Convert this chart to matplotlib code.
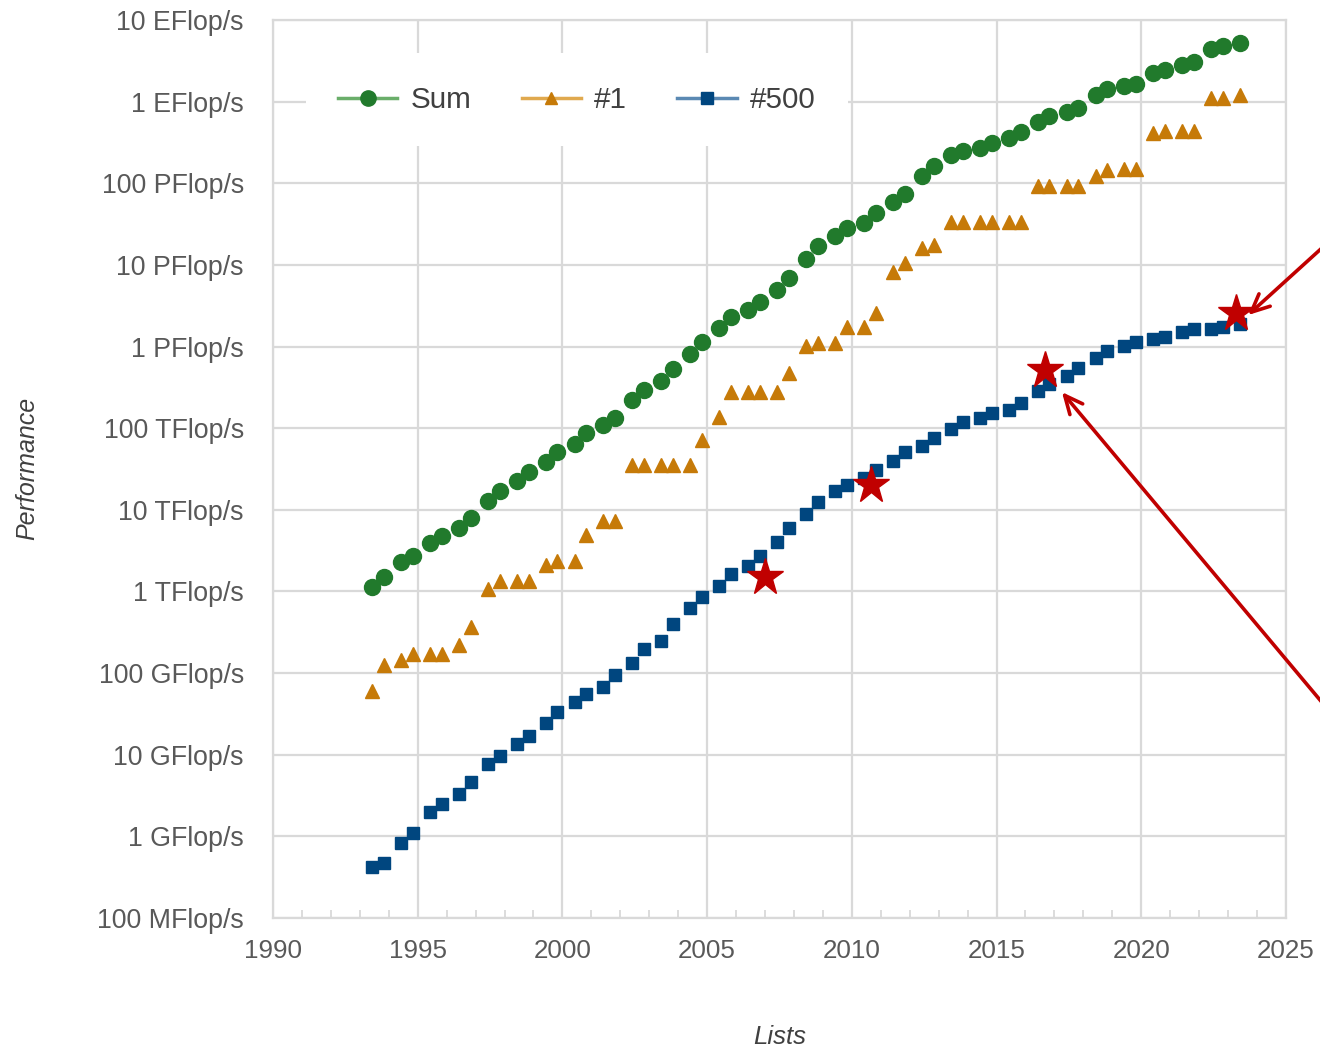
import matplotlib
matplotlib.use("Agg")
import matplotlib.pyplot as plt
import numpy as np
from matplotlib.lines import Line2D
from matplotlib.ticker import FixedLocator, MultipleLocator

# list dates (June = .42, November = .83)
lists = [
    1993.42, 1993.83, 1994.42, 1994.83, 1995.42, 1995.83, 1996.42, 1996.83,
    1997.42, 1997.83, 1998.42, 1998.83, 1999.42, 1999.83, 2000.42, 2000.83,
    2001.42, 2001.83, 2002.42, 2002.83, 2003.42, 2003.83, 2004.42, 2004.83,
    2005.42, 2005.83, 2006.42, 2006.83, 2007.42, 2007.83, 2008.42, 2008.83,
    2009.42, 2009.83, 2010.42, 2010.83, 2011.42, 2011.83, 2012.42, 2012.83,
    2013.42, 2013.83, 2014.42, 2014.83, 2015.42, 2015.83, 2016.42, 2016.83,
    2017.42, 2017.83, 2018.42, 2018.83, 2019.42, 2019.83, 2020.42, 2020.83,
    2021.42, 2021.83, 2022.42, 2022.83, 2023.42,
]

# performance in GFlop/s
perf_sum = [
    1128, 1493, 2317, 2730, 3947, 4783, 5966, 7985,
    12900, 17210, 22600, 29350, 39000, 50500, 64400, 88100,
    108500, 134400, 222100, 293000, 375000, 528000, 813000, 1127000,
    1690000, 2300000, 2790000, 3540000, 4920000, 6970000, 11700000, 16950000,
    22600000, 27950000, 32400000, 43660000, 58880000, 74200000, 123000000, 162000000,
    223000000, 250000000, 274000000, 309000000, 363000000, 420000000, 566000000, 672000000,
    749000000, 845000000, 1220000000, 1417000000, 1559000000, 1650000000, 2220000000, 2430000000,
    2790000000, 3040000000, 4400000000, 4860000000, 5240000000,
]
perf_n1 = [
    59.7, 124.5, 143.4, 170.4, 170.4, 170.4, 220.4, 368.2,
    1068, 1338, 1338, 1338, 2121, 2379, 2379, 4938,
    7226, 7226, 35860, 35860, 35860, 35860, 35860, 70720,
    136800, 280600, 280600, 280600, 280600, 478200, 1026000, 1105000,
    1105000, 1759000, 1759000, 2566000, 8162000, 10510000, 16324000, 17590000,
    33860000, 33860000, 33860000, 33860000, 33860000, 33860000, 93010000, 93010000,
    93010000, 93010000, 122300000, 143500000, 148600000, 148600000, 415500000, 442000000,
    442000000, 442000000, 1102000000, 1102000000, 1194000000,
]
perf_n500 = [
    0.422, 0.472, 0.822, 1.114, 1.962, 2.489, 3.306, 4.620,
    7.680, 9.513, 13.39, 17.12, 24.73, 33.14, 43.82, 55.10,
    67.78, 94.30, 134.3, 195.8, 245.1, 403.4, 624.0, 850.6,
    1166, 1646, 2026, 2737, 4005, 5929, 9000, 12640,
    17090, 20050, 24670, 31120, 39090, 50940, 60820, 76500,
    96620, 117800, 133700, 153400, 164800, 206300, 286100, 349300,
    432200, 548700, 715600, 874800, 1021000, 1142000, 1228000, 1317000,
    1511000, 1646000, 1649000, 1730000, 1870000,
]

# highlighted systems (red stars)
star_x = [2007.0, 2010.66, 2016.68, 2023.28]
star_y = [1500, 20100, 515000, 2580000]

y_ticks = [1e-1, 1, 1e1, 1e2, 1e3, 1e4, 1e5, 1e6, 1e7, 1e8, 1e9, 1e10]
y_labels = ["100 MFlop/s", "1 GFlop/s", "10 GFlop/s", "100 GFlop/s",
            "1 TFlop/s", "10 TFlop/s", "100 TFlop/s", "1 PFlop/s",
            "10 PFlop/s", "100 PFlop/s", "1 EFlop/s", "10 EFlop/s"]

GREEN, ORANGE, BLUE, RED = "#217a2c", "#c67a08", "#00467f", "#c00000"
GRID = "#d9d9d9"
TXT = "#595959"

plt.rcParams["font.family"] = ["Liberation Sans", "DejaVu Sans"]

fig = plt.figure(figsize=(13.2, 10.49), dpi=100)
ax = fig.add_axes([0.2068, 0.1249, 0.7674, 0.856])

ax.plot(lists, perf_sum, "o", ms=11.5, color=GREEN, mec=GREEN, zorder=3)
ax.plot(lists, perf_n1, "^", ms=10, color=ORANGE, mec=ORANGE, zorder=3)
ax.plot(lists, perf_n500, "s", ms=8.3, color=BLUE, mec=BLUE, zorder=3)
ax.plot(star_x, star_y, "*", ms=28, color=RED, mec=RED, zorder=5)

ax.set_yscale("log")
ax.set_ylim(1e-1, 1e10)
ax.set_xlim(1990, 2025)
ax.yaxis.set_major_locator(FixedLocator(y_ticks))
ax.yaxis.set_minor_locator(FixedLocator([]))
ax.set_yticklabels(y_labels)
ax.xaxis.set_major_locator(MultipleLocator(5))
ax.xaxis.set_minor_locator(MultipleLocator(1))

ax.grid(True, which="major", color=GRID, lw=1.6, zorder=0)
ax.set_axisbelow(True)
for s in ax.spines.values():
    s.set_color(GRID)
    s.set_linewidth(1.6)
ax.tick_params(axis="y", length=0, pad=21, labelsize=19.3, labelcolor=TXT)
ax.tick_params(axis="x", which="both", direction="in", length=5.5,
               width=1.3, color=GRID, pad=15, labelsize=18.7, labelcolor=TXT)

fig.text(0.0205, 0.553, "Performance", rotation=90, ha="center", va="center",
         fontsize=18, style="italic", color="#404040",
         family=["Liberation Sans Narrow", "Liberation Sans"])
fig.text(0.5905, 0.0115, "Lists", ha="center", va="center",
         fontsize=18.5, style="italic", color="#404040",
         family=["Liberation Sans Narrow", "Liberation Sans"])

handles = [
    Line2D([], [], color="#6aae6a", lw=2.5, marker="o", ms=11, mfc=GREEN, mec=GREEN),
    Line2D([], [], color="#e0a94e", lw=2.5, marker="^", ms=9, mfc=ORANGE, mec=ORANGE),
    Line2D([], [], color="#5b89b3", lw=2.5, marker="s", ms=8, mfc=BLUE, mec=BLUE),
]
leg = ax.legend(handles, ["Sum", "#1", "#500"], loc="center",
                bbox_to_anchor=(0.3, 0.911), ncol=3, fontsize=21.3,
                handlelength=2.0, handletextpad=0.45, columnspacing=1.7,
                borderpad=1.1, frameon=True, fancybox=False)
leg.get_frame().set_facecolor("white")
leg.get_frame().set_edgecolor("none")
leg.get_frame().set_alpha(1)
for t in leg.get_texts():
    t.set_color("#404040")

arrow = dict(arrowstyle="->,head_length=0.65,head_width=0.3", color=RED,
             lw=2.6, shrinkA=0, shrinkB=0, mutation_scale=20)
ax.annotate("", xy=(2023.69, 2.43e6), xytext=(2026.6, 2.1e7),
            arrowprops=arrow, annotation_clip=False, zorder=6)
ax.annotate("", xy=(2017.26, 2.77e5), xytext=(2026.6, 31),
            arrowprops=arrow, annotation_clip=False, zorder=6)

fig.savefig("out.png", dpi=100)
